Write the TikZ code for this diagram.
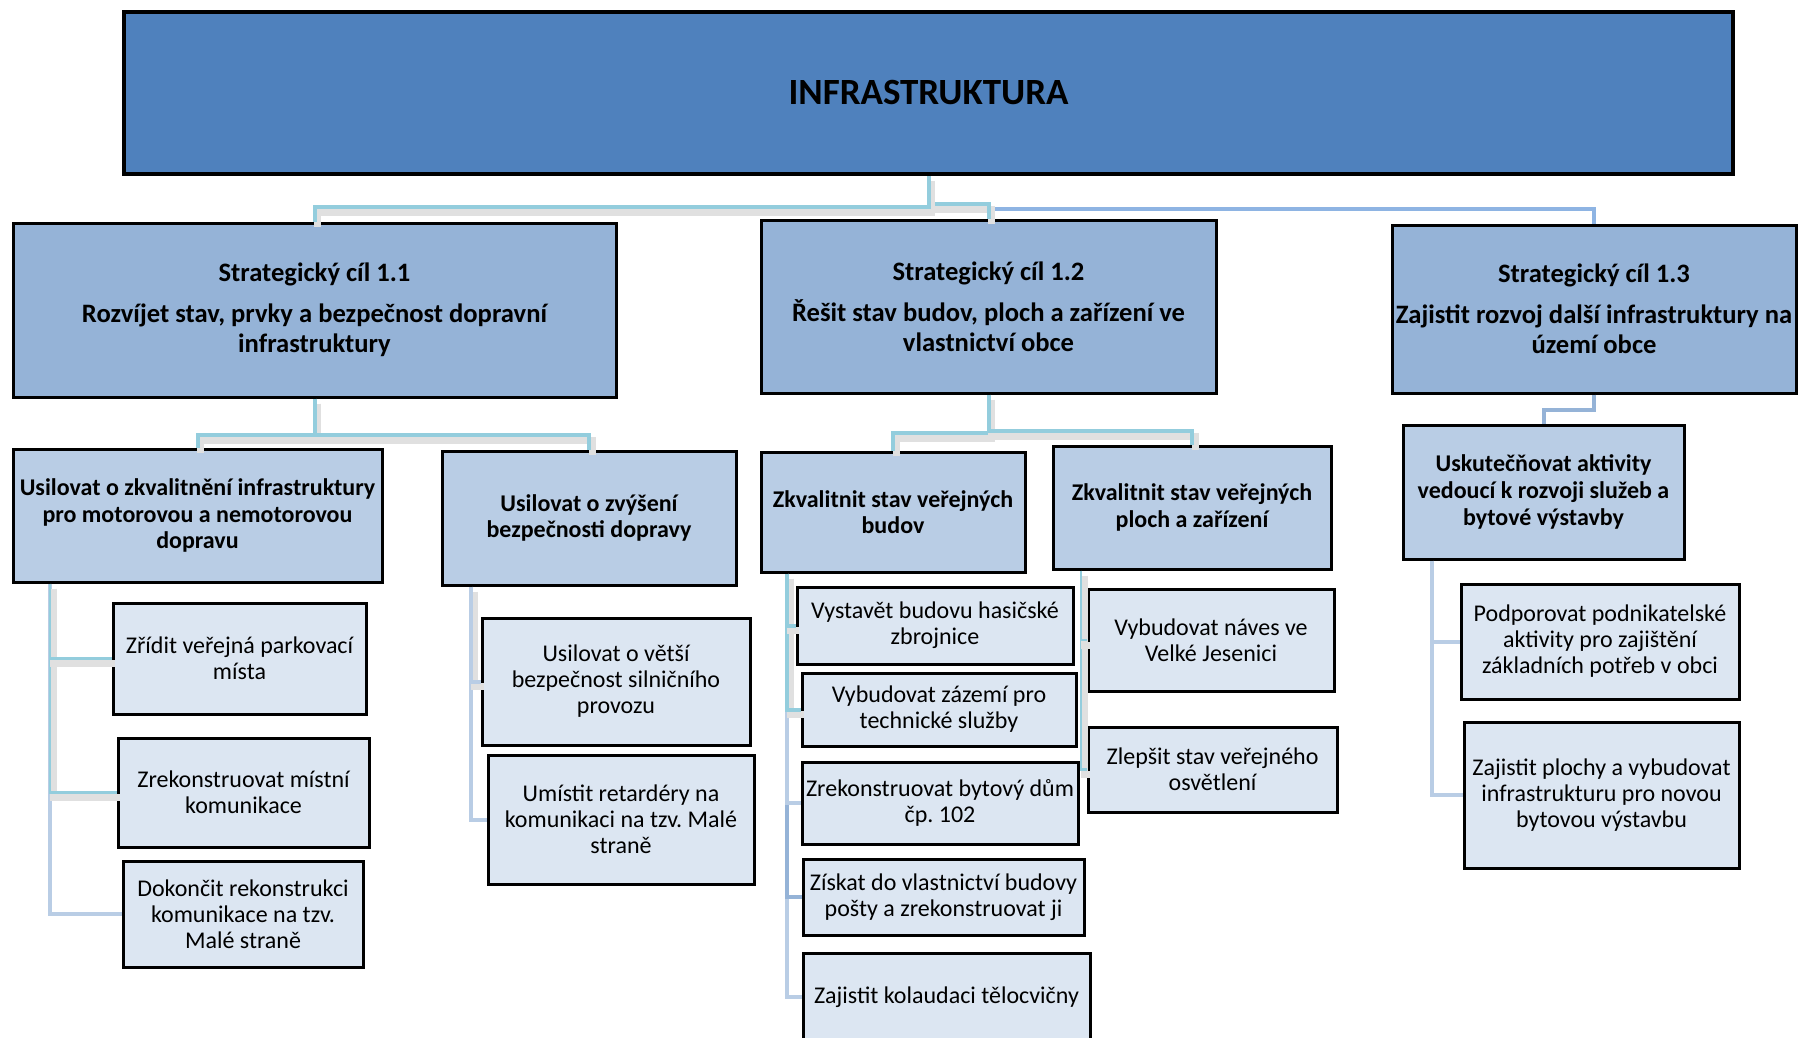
\documentclass[tikz,border=0pt]{standalone}
\usepackage{fontspec}
\setmainfont{Carlito}
\usepackage{tikz}
\usetikzlibrary{calc}
\frenchspacing
\definecolor{hlavni}{HTML}{4F81BD}
\definecolor{cil}{HTML}{95B3D7}
\definecolor{opatreni}{HTML}{B9CDE5}
\definecolor{aktivita}{HTML}{DCE6F2}
\definecolor{tyrkys}{HTML}{93CDDD}
\definecolor{modra}{HTML}{8EB4E3}
\definecolor{svetla}{HTML}{B9CDE5}
\def\blok[#1](#2)(#3,#4)(#5,#6)#7{\node[#1, minimum width={(#5-#3)*0.5pt}, minimum height={(#6-#4)*0.5pt}] (#2) at ({(#3+#5)/2},{(#4+#6)/2}) {#7};}

\begin{document}
\begin{tikzpicture}[x=0.5pt, y=-0.5pt,
	hlavnibox/.style={draw, line width=2pt, fill=hlavni, inner sep=1pt, font=\fontsize{18.5}{22}\selectfont\bfseries},
	cilbox/.style={draw, line width=1.5pt, fill=cil, inner sep=1pt, align=center, font=\fontsize{13.3}{15}\selectfont\bfseries},
	opbox/.style={draw, line width=1.5pt, fill=opatreni, inner sep=1pt, align=center, font=\fontsize{12}{13.3}\selectfont\bfseries},
	akbox/.style={draw, line width=1.5pt, fill=aktivita, inner sep=1pt, align=center, font=\fontsize{12}{13}\selectfont},
	stin/.style={preaction={draw=black!12, line width=3.5pt, transform canvas={shift={(3,5)}}}},
	tyrkysova/.style={draw=tyrkys, line width=2pt, stin},
	tyrkysovatenka/.style={draw=tyrkys, line width=1.3pt, stin},
	modraline/.style={draw=modra, line width=2pt},
	cilline/.style={draw=cil, line width=2pt},
	svetlaline/.style={draw=svetla, line width=2pt}]
	%%%%% START %%%%%
	\useasboundingbox (0,0) rectangle (1798,1038);
	
	% boxes
	\blok[hlavnibox](infra)(124,12)(1733,174){INFRASTRUKTURA}
	
	\blok[cilbox](cil11)(13,223)(616,397){Strategický cíl 1.1\\[5.5pt]Rozvíjet stav, prvky a bezpečnost dopravní\\infrastruktury}
	\blok[cilbox](cil12)(761,220)(1216,393){Strategický cíl 1.2\\[5.5pt]Řešit stav budov, ploch a zařízení ve\\vlastnictví obce}
	\blok[cilbox](cil13)(1392,225)(1796,393){Strategický cíl 1.3\\[5.5pt]Zajistit rozvoj další infrastruktury na\\území obce}
	
	\blok[opbox](opA)(13,449)(382,582){Usilovat o zkvalitnění infrastruktury\\pro motorovou a nemotorovou\\dopravu}
	\blok[opbox](opB)(442,451)(736,585){Usilovat o zvýšení\\bezpečnosti dopravy}
	\blok[opbox](opC)(761,452)(1025,572){Zkvalitnit stav veřejných\\budov}
	\blok[opbox](opD)(1053,446)(1331,569){Zkvalitnit stav veřejných\\ploch a zařízení}
	\blok[opbox](opE)(1403,425)(1684,559){Uskutečňovat aktivity\\vedoucí k rozvoji služeb a\\bytové výstavby}
	
	\blok[akbox](akA1)(113,603)(366,714){Zřídit veřejná parkovací\\místa}
	\blok[akbox](akA2)(118,738)(369,847){Zrekonstruovat místní\\komunikace}
	\blok[akbox](akA3)(123,861)(363,967){Dokončit rekonstrukci\\komunikace na tzv.\\Malé straně}
	
	\blok[akbox](akB1)(482,618)(750,745){Usilovat o větší\\bezpečnost silničního\\provozu}
	\blok[akbox](akB2)(488,755)(754,884){Umístit retardéry na\\komunikaci na tzv. Malé\\straně}
	
	\blok[akbox](akC1)(797,587)(1073,664){Vystavět budovu hasičské\\zbrojnice}
	\blok[akbox](akC2)(802,673)(1076,746){Vybudovat zázemí pro\\technické služby}
	\blok[akbox](akC3)(802,762)(1078,844){Zrekonstruovat bytový dům\\čp. 102}
	\blok[akbox](akC4)(803,859)(1084,935){Získat do vlastnictví budovy\\pošty a zrekonstruovat ji}
	\blok[akbox](akC5)(803,953)(1090,1041){Zajistit kolaudaci tělocvičny}
	
	\blok[akbox](akD1)(1088,589)(1334,691){Vybudovat náves ve\\Velké Jesenici}
	\blok[akbox](akD2)(1088,727)(1337,812){Zlepšit stav veřejného\\osvětlení}
	
	\blok[akbox](akE1)(1461,584)(1739,699){Podporovat podnikatelské\\aktivity pro zajištění\\základních potřeb v obci}
	\blok[akbox](akE2)(1464,722)(1739,868){Zajistit plochy a vybudovat\\infrastrukturu pro novou\\bytovou výstavbu}
	
	% connectors
	\draw[modraline] (infra.south) -- (infra.south |- 0,209) -| (cil13.north);
	\draw[tyrkysova] (infra.south) -- (infra.south |- 0,204) -| (cil12.north);
	\draw[tyrkysova] (infra.south) -- (infra.south |- 0,207) -| (cil11.north);
	
	\draw[tyrkysova] (cil11.south) -- (cil11.south |- 0,435) -| (opA.north);
	\draw[tyrkysova] (cil11.south) -- (cil11.south |- 0,435) -| (opB.north);
	\draw[tyrkysova] (cil12.south) -- (cil12.south |- 0,433) -| (opC.north);
	\draw[tyrkysova] (cil12.south) -- (cil12.south |- 0,431) -| (opD.north);
	\draw[cilline] (cil13.south) -- (cil13.south |- 0,410) -| (opE.north);
	
	\draw[svetlaline] (opA.south -| 50,0) |- (akA3.west);
	\draw[tyrkysovatenka] (opA.south -| 50,0) |- (akA2.west);
	\draw[tyrkysovatenka] (opA.south -| 50,0) |- (akA1.west);
	
	\draw[svetlaline] (opB.south -| 471,0) |- (akB2.west);
	\draw[svetlaline, stin] (opB.south -| 471,0) |- (akB1.west);
	
	\draw[svetlaline] (opC.south -| 787,0) |- (akC5.west);
	\draw[cilline] (opC.south -| 787,0) |- (akC4.west);
	\draw[svetlaline] (opC.south -| 787,0) |- (akC3.west);
	\draw[tyrkysova] (opC.south -| 787,0) |- (akC2.west);
	\draw[tyrkysova] (opC.south -| 787,0) |- (akC1.west);
	
	\draw[tyrkysovatenka] (opD.south -| 1081,0) |- (akD2.west);
	\draw[tyrkysovatenka] (opD.south -| 1081,0) |- (akD1.west);
	
	\draw[svetlaline] (opE.south -| 1432,0) |- (akE2.west);
	\draw[svetlaline] (opE.south -| 1432,0) |- (akE1.west);
	%%%%% END %%%%%
\end{tikzpicture}
\end{document}
